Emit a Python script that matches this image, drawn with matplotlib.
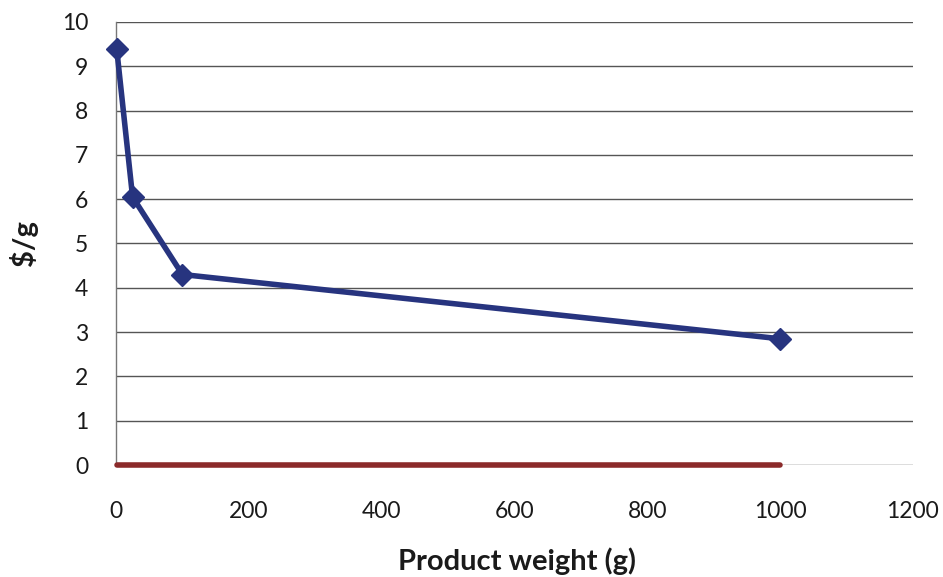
import matplotlib
matplotlib.use("Agg")
import matplotlib.pyplot as plt

# Price per gram by product weight
weights = [1, 25, 100, 1000]
price_per_gram = [9.4, 6.05, 4.3, 2.85]
baseline = [0, 0, 0, 0]

x_ticks = [0, 200, 400, 600, 800, 1000, 1200]
y_ticks = [0, 1, 2, 3, 4, 5, 6, 7, 8, 9, 10]

plt.rcParams['font.family'] = ['Lato', 'DejaVu Sans']

fig = plt.figure(figsize=(9.43, 5.77), dpi=100)
ax = fig.add_axes([0.123, 0.194, 0.845, 0.768])

ax.set_xlim(0, 1200)
ax.set_ylim(0, 10)
ax.set_xticks(x_ticks)
ax.set_yticks(y_ticks)
ax.tick_params(axis='both', length=0, labelsize=16.5, colors='#1a1a1a')
ax.tick_params(axis='y', pad=20)
ax.tick_params(axis='x', pad=26)

ax.grid(axis='y', color='#555555', linewidth=1.0)
ax.set_axisbelow(True)
for side in ('top', 'right', 'bottom'):
    ax.spines[side].set_visible(False)
ax.spines['left'].set_color('#777777')
ax.spines['left'].set_linewidth(1.0)

ax.plot(weights, baseline, color='#8B2A2A', linewidth=4, solid_capstyle='round',
        zorder=3, clip_on=False)
ax.plot(weights, price_per_gram, color='#27347F', linewidth=4, marker='D',
        markersize=11, markerfacecolor='#27347F', markeredgecolor='#27347F',
        zorder=4, clip_on=False)

ax.set_xlabel('Product weight (g)', fontsize=21, fontweight='bold', color='#1a1a1a',
              va='center')
ax.xaxis.set_label_coords(0.503, -0.218)
ax.set_ylabel('$/g', fontsize=21, fontweight='bold', color='#1a1a1a', va='center')
ax.yaxis.set_label_coords(-0.116, 0.5)

fig.savefig('out.png', dpi=100)
